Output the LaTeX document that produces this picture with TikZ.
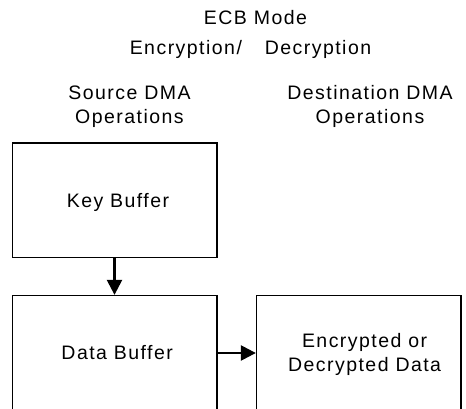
\documentclass[tikz,border=0pt]{standalone}
\usepackage{fontspec}
\setmainfont{Liberation Sans}[LetterSpace=7.5]
\usetikzlibrary{arrows.meta}
\begin{document}
\begin{tikzpicture}[x=1pt,y=-1pt,
  txt/.style={font=\fontsize{19.5pt}{24pt}\selectfont, inner sep=0pt, anchor=base, align=center},
  boxnode/.style={draw=black, line width=1.6pt, minimum width=204.4pt, minimum height=114.7pt, inner sep=0pt},
  conn/.style={line width=2.4pt, -{Triangle[length=15pt,width=15pt]}}
]
\useasboundingbox (0,0) rectangle (466,409);
\clip (0,0) rectangle (466,409);
\node[txt] (title) at (255.5,25) {ECB Mode};
\node[txt] (sub) at (250.5,54.3) {Encryption/\hspace{16pt} Decryption};
\node[txt] (src) at (129.5,124) {Source DMA\\Operations};
\node[txt] (dst) at (370,124) {Destination DMA\\Operations};
\node[boxnode] (key) at (114.5,200.3) {};
\node[boxnode] (data) at (114.5,353) {};
\node[boxnode] (enc) at (358.85,353) {};
\node[txt] (keytext) at (118,207.3) {Key Buffer};
\node[txt] (datatext) at (117.2,359.3) {Data Buffer};
\node[txt] (enctext) at (364.6,371) {Encrypted or\\Decrypted Data};
\draw[conn] (key) -- (data);
\draw[conn] (data) -- (enc);
\end{tikzpicture}
\end{document}
